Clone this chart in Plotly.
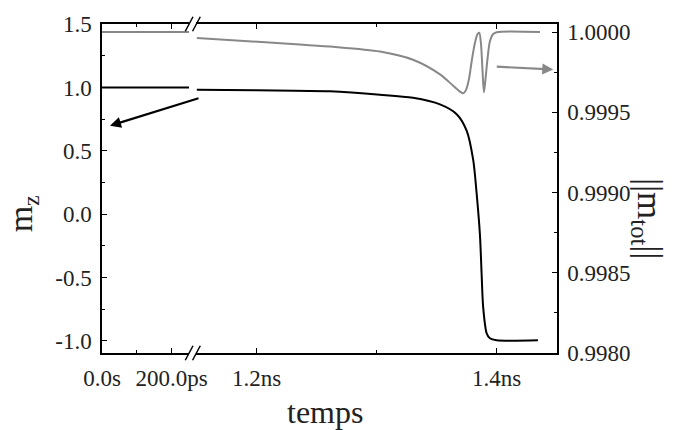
import plotly.graph_objects as go

# time axis in ns, split in two segments (broken axis)
t_left = [0.0, 0.25]
mz_left = [1.0, 1.0]
mtot_left = [1.0, 1.0]

t_mz = [1.1502, 1.20, 1.2611, 1.3028, 1.3303, 1.3528, 1.3667, 1.3750, 1.3805, 1.3833,
        1.3861, 1.3875, 1.3888, 1.3917, 1.3944, 1.4000, 1.4344]
mz = [0.982, 0.977, 0.969, 0.943, 0.918, 0.866, 0.789, 0.659, 0.426, 0.168,
      -0.165, -0.475, -0.736, -0.940, -0.979, -0.995, -0.995]

t_tot = [1.1502, 1.2361, 1.2611, 1.3028, 1.3303, 1.3528, 1.3638, 1.3694, 1.3722, 1.3744,
         1.3769, 1.3794, 1.3819, 1.3840, 1.3855, 1.3869, 1.3882, 1.3894, 1.3907, 1.3923,
         1.3944, 1.3969, 1.4000, 1.4361]
mtot = [0.999963, 0.999923, 0.999909, 0.999878, 0.999827, 0.999736, 0.999665, 0.999629, 0.999618, 0.999638,
        0.999705, 0.999827, 0.999931, 0.999986, 0.999996, 0.999931, 0.999766, 0.999624, 0.999705, 0.999827,
        0.999943, 0.999986, 0.999999, 1.0]

# tick labels
xl_vals = [0.0, 0.2]
xl_text = ["0.0s", "200.0ps"]
xr_vals = [1.2, 1.4]
xr_text = ["1.2ns", "1.4ns"]
yl_vals = [-1.0, -0.5, 0.0, 0.5, 1.0, 1.5]
yl_text = ["-1.0", "-0.5", "0.0", "0.5", "1.0", "1.5"]
yr_vals = [0.998, 0.9985, 0.999, 0.9995, 1.0]
yr_text = ["0.9980", "0.9985", "0.9990", "0.9995", "1.0000"]

FONT = "Liberation Serif"
GRAY = "#888888"
TXT = "#222222"

fig = go.Figure()
fig.add_trace(go.Scatter(x=t_left, y=mz_left, xaxis="x", yaxis="y", mode="lines",
                         line=dict(color="black", width=2)))
fig.add_trace(go.Scatter(x=t_mz, y=mz, xaxis="x2", yaxis="y", mode="lines",
                         line=dict(color="black", width=2, shape="spline", smoothing=0.8)))
fig.add_trace(go.Scatter(x=t_left, y=mtot_left, xaxis="x", yaxis="y2", mode="lines",
                         line=dict(color=GRAY, width=2)))
fig.add_trace(go.Scatter(x=t_tot, y=mtot, xaxis="x2", yaxis="y2", mode="lines",
                         line=dict(color=GRAY, width=2, shape="spline", smoothing=0.8)))

tickfont = dict(family=FONT, size=23, color=TXT)
ax_common = dict(showline=True, linecolor="black", linewidth=1.5, mirror="ticks",
                 ticks="inside", ticklen=5, tickcolor="black", showgrid=False, zeroline=False,
                 tickfont=tickfont, ticklabelstandoff=4)

fig.update_layout(
    width=675, height=430,
    margin=dict(l=102, r=118, t=18, b=77),
    plot_bgcolor="white", paper_bgcolor="white",
    showlegend=False,
    xaxis=dict(domain=[0, 0.1912], range=[0, 0.25], tickvals=xl_vals, ticktext=xl_text,
               minor=dict(tickvals=[0.1], ticks="inside", ticklen=3, tickcolor="black"),
               anchor="y", **ax_common),
    xaxis2=dict(domain=[0.2066, 1], range=[1.1495, 1.4503], tickvals=xr_vals, ticktext=xr_text,
                minor=dict(tickvals=[1.3], ticks="inside", ticklen=3, tickcolor="black"),
                anchor="y", **ax_common),
    yaxis=dict(range=[-1.095, 1.5005], tickvals=yl_vals, ticktext=yl_text,
               minor=dict(dtick=0.25, ticks="inside", ticklen=3, tickcolor="black"),
               anchor="x", showline=True, linecolor="black", linewidth=1.5, mirror=False,
               ticks="inside", ticklen=5, tickcolor="black", showgrid=False, zeroline=False,
               tickfont=tickfont, ticklabelstandoff=4),
    yaxis2=dict(range=[0.9979995, 1.00005], tickvals=yr_vals, ticktext=yr_text,
                minor=dict(dtick=0.00025, tick0=0.998, ticks="inside", ticklen=3, tickcolor="black"),
                overlaying="y", side="right", anchor="x2", showline=True, linecolor="black",
                linewidth=1.5, ticks="inside", ticklen=5, tickcolor="black", showgrid=False,
                zeroline=False, tickfont=tickfont, ticklabelstandoff=4),
)

# axis titles
fig.add_annotation(text="temps", x=0.49, y=-0.18, xref="paper", yref="paper",
                   xanchor="center", yanchor="middle",
                   showarrow=False, font=dict(family=FONT, size=32, color=TXT))
fig.add_annotation(text="m<sub>z</sub>", x=-0.174, y=0.424, xref="paper", yref="paper",
                   xanchor="center", yanchor="middle",
                   showarrow=False, textangle=-90, font=dict(family=FONT, size=34, color=TXT))
fig.add_annotation(text="||m<sub>tot</sub>||", x=1.2, y=0.41, xref="paper", yref="paper",
                   xanchor="center", yanchor="middle",
                   showarrow=False, textangle=90, font=dict(family=FONT, size=35, color=TXT))

# arrows pointing at each curve's axis
fig.add_annotation(text="", x=0.023, y=0.698, xref="x", yref="y", ax=90, ay=-28,
                   showarrow=True, arrowhead=2, arrowsize=1, arrowwidth=2.2, arrowcolor="black")
fig.add_annotation(text="", x=1.4472, y=0.999766, xref="x2", yref="y2", ax=-58, ay=-3,
                   showarrow=True, arrowhead=2, arrowsize=1, arrowwidth=2.2, arrowcolor=GRAY)

# axis break marks
for yb in [0, 1]:
    for dx in [0, 0.016]:
        fig.add_shape(type="line", xref="paper", yref="paper",
                      x0=0.183 + dx, x1=0.2 + dx, y0=yb - 0.022, y1=yb + 0.022,
                      line=dict(color="black", width=1.5))

# drop the default page margin so the figure fills the window exactly
fig.write_html("out.html", config={"displayModeBar": False},
               post_script="document.body.style.margin='0';")
